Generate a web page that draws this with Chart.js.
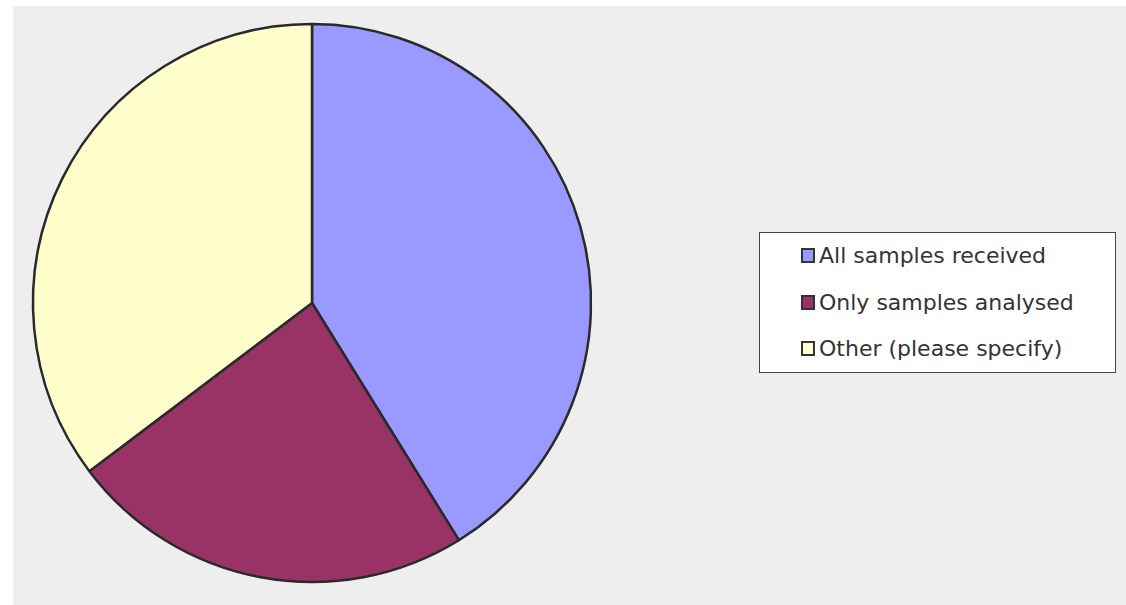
<!DOCTYPE html>
<html>
<head>
<meta charset="utf-8">
<script src="https://cdn.jsdelivr.net/npm/chart.js@4"></script>
<style>
    body { margin: 0; background: #fff; width: 1126px; height: 605px; overflow: hidden; position: relative; }
    #bg { position: absolute; left: 13px; top: 6px; right: 0; bottom: 0; background: #eeeeee; }
    #pieWrap { position: absolute; left: 12px; top: 3px; width: 600px; height: 600px; }
    #legend {
        position: absolute; left: 759px; top: 232px; width: 355px; height: 139px;
        background: #fff; border: 1px solid #444;
        font-family: "DejaVu Sans", sans-serif; font-size: 22px; color: #333;
    }
    .item { position: absolute; left: 41px; height: 26px; line-height: 26px; white-space: nowrap; }
    .box { display: inline-block; width: 10px; height: 11px; border: 2px solid #333; margin-right: 4px; vertical-align: 0px; }
</style>
</head>
<body>
<div id="bg"></div>
<div id="pieWrap"><canvas id="pieChart" width="600" height="600"></canvas></div>
<div id="legend"></div>
<script>
const labels = ['All samples received', 'Only samples analysed', 'Other (please specify)'];
const values = [7, 4, 6];
const colors = ['#9999ff', '#993366', '#ffffcc'];

const ctx = document.getElementById('pieChart').getContext('2d');

let pieChart = new Chart(ctx, {
    type: 'pie',
    data: {
        labels: labels,
        datasets: [{
            data: values,
            backgroundColor: colors,
            borderColor: '#2a2a2a',
            borderWidth: 2.5
        }]
    },
    options: {
        responsive: false,
        animation: false,
        radius: 279,
        plugins: {
            legend: { display: false },
            tooltip: { enabled: false }
        }
    }
});

// легенда в рамці
const legend = document.getElementById('legend');
const rowTops = [10, 57, 103];
labels.forEach((label, i) => {
    const row = document.createElement('div');
    row.className = 'item';
    row.style.top = rowTops[i] + 'px';
    row.innerHTML = `<span class="box" style="background:${colors[i]}"></span>${label}`;
    legend.appendChild(row);
});
</script>
</body>
</html>
